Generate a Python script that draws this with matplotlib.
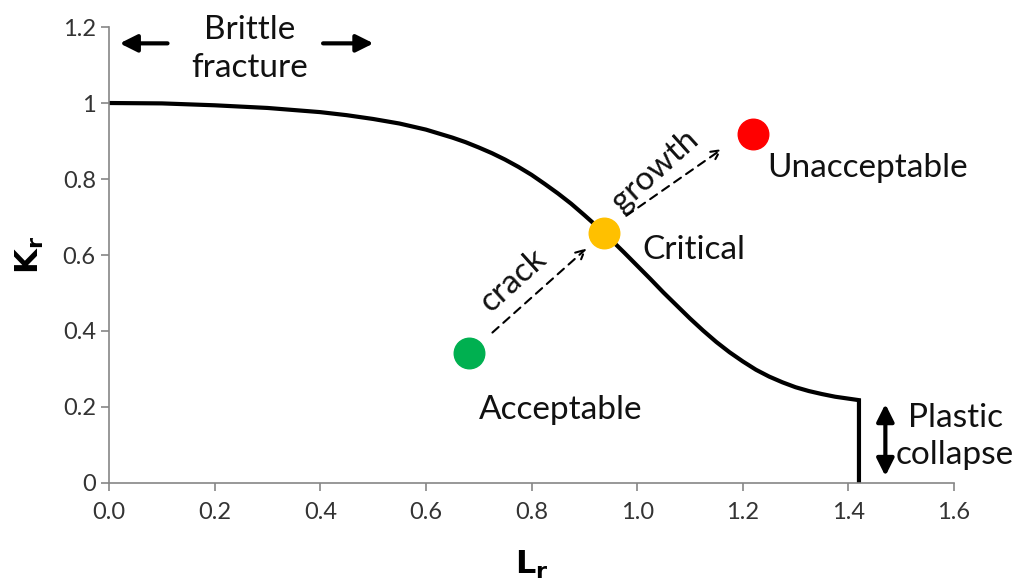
import numpy as np
import matplotlib.pyplot as plt

plt.rcParams['font.family'] = ['Lato', 'DejaVu Sans']

# failure assessment line
lr = [0.0, 0.1, 0.2, 0.3, 0.4, 0.45, 0.5, 0.55, 0.6, 0.65, 0.675, 0.7, 0.725,
      0.75, 0.775, 0.8, 0.825, 0.85, 0.875, 0.9, 0.925, 0.95, 0.975, 1.0,
      1.025, 1.05, 1.075, 1.1, 1.125, 1.15, 1.175, 1.2, 1.225, 1.25, 1.275,
      1.3, 1.325, 1.35, 1.375, 1.4, 1.42, 1.42]
kr = [1.0, 0.999, 0.994, 0.987, 0.976, 0.968, 0.958, 0.946, 0.930, 0.909,
      0.897, 0.883, 0.868, 0.851, 0.832, 0.811, 0.787, 0.762, 0.735, 0.705,
      0.674, 0.641, 0.607, 0.572, 0.537, 0.501, 0.467, 0.433, 0.401, 0.371,
      0.344, 0.320, 0.298, 0.280, 0.265, 0.252, 0.242, 0.234, 0.227, 0.222,
      0.218, 0.0]

# assessment points
pt_names = ['Acceptable', 'Critical', 'Unacceptable']
pt_lr = [0.682, 0.937, 1.220]
pt_kr = [0.342, 0.657, 0.919]
pt_colors = ['#00b050', '#ffc000', '#ff0000']

xticks = [0.0, 0.2, 0.4, 0.6, 0.8, 1.0, 1.2, 1.4, 1.6]
xticklabels = ['0.0', '0.2', '0.4', '0.6', '0.8', '1.0', '1.2', '1.4', '1.6']
yticks = [0, 0.2, 0.4, 0.6, 0.8, 1.0, 1.2]
yticklabels = ['0', '0.2', '0.4', '0.6', '0.8', '1', '1.2']

fig = plt.figure(figsize=(10.21, 5.81), dpi=100)
ax = fig.add_axes([0.1068, 0.1687, 0.8276, 0.7848])

ax.plot(lr, kr, color='black', linewidth=3, solid_joinstyle='miter')

for x, y, c in zip(pt_lr, pt_kr, pt_colors):
    ax.plot(x, y, 'o', color=c, markersize=22, zorder=5)

txt_kw = dict(fontsize=24, color='#111111')
ax.text(0.856, 0.192, 'Acceptable', ha='center', va='center', **txt_kw)
ax.text(1.009, 0.612, 'Critical', ha='left', va='center', **txt_kw)
ax.text(1.246, 0.829, 'Unacceptable', ha='left', va='center', **txt_kw)
ax.text(0.267, 1.142, 'Brittle\nfracture', ha='center', va='center', linespacing=1.3, **txt_kw)
ax.text(1.602, 0.123, 'Plastic\ncollapse', ha='center', va='center', linespacing=1.3, **txt_kw)
ax.text(0.765, 0.533, 'crack', ha='center', va='center', rotation=42, rotation_mode='anchor', **txt_kw)
ax.text(1.034, 0.822, 'growth', ha='center', va='center', rotation=42, rotation_mode='anchor', **txt_kw)

# dashed crack-growth arrows
dash_kw = dict(arrowstyle='->', color='black', lw=1.5, linestyle=(0, (4, 3)), mutation_scale=16)
ax.annotate('', xy=(0.908, 0.622), xytext=(0.722, 0.391), arrowprops=dash_kw)
ax.annotate('', xy=(1.165, 0.883), xytext=(0.975, 0.699), arrowprops=dash_kw)

# solid region arrows
solid_kw = dict(arrowstyle='-|>', color='black', lw=3, mutation_scale=26)
ax.annotate('', xy=(0.015, 1.157), xytext=(0.116, 1.157), arrowprops=solid_kw)
ax.annotate('', xy=(0.506, 1.157), xytext=(0.400, 1.157), arrowprops=solid_kw)
ax.annotate('', xy=(1.470, 0.215), xytext=(1.470, 0.011),
            arrowprops=dict(arrowstyle='<|-|>', color='black', lw=3, mutation_scale=26))

ax.set_xlim(0, 1.6)
ax.set_ylim(0, 1.2)
ax.set_xticks(xticks)
ax.set_xticklabels(xticklabels)
ax.set_yticks(yticks)
ax.set_yticklabels(yticklabels)
ax.tick_params(colors='#868686', labelcolor='#333333', labelsize=17, length=6, width=1.2)
ax.tick_params(axis='x', pad=8)
ax.spines['top'].set_visible(False)
ax.spines['right'].set_visible(False)
for s in ['left', 'bottom']:
    ax.spines[s].set_color('#868686')
    ax.spines[s].set_linewidth(1.2)

ax.set_xlabel(r'$\mathbf{L_r}$', fontsize=23, labelpad=18)
ax.set_ylabel(r'$\mathbf{K_r}$', fontsize=23, labelpad=12, rotation=90)

fig.savefig('out.png', dpi=100)
